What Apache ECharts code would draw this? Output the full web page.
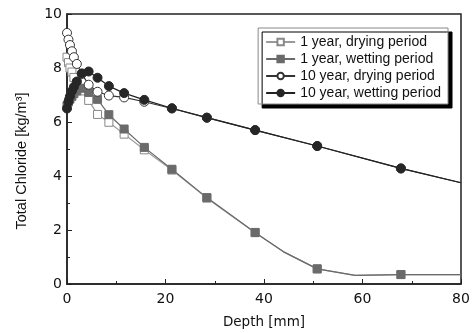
<!DOCTYPE html>
<html>
<head>
<meta charset="utf-8">
<script src="https://cdn.jsdelivr.net/npm/echarts@6/dist/echarts.min.js"></script>
<style>
  html, body { margin: 0; padding: 0; background: #fff; }
  #chart { width: 475px; height: 333px; }
</style>
</head>
<body>
<div id="chart"></div>
<script>
// depth [mm] of the plotted points
const depth1 = [0, 0.3, 0.6, 1.0, 1.4, 2.0, 3.0, 4.4, 6.2, 8.5, 11.6, 15.7, 21.3, 28.4, 38.2, 43.9, 50.8, 58.5, 67.8, 80]
const depth10 = [0, 0.3, 0.6, 1.0, 1.4, 2.0, 3.0, 4.4, 6.2, 8.5, 11.6, 15.7, 21.3, 28.4, 38.2, 50.8, 67.8, 80]
// points drawn as line only (no marker)
const unmarked = [43.9, 58.5, 80]

const oneYearDrying = [8.4, 8.2, 8.0, 7.85, 7.65, 7.45, 7.15, 6.8, 6.28, 5.99, 5.55, 4.97, 4.22, 3.18, 1.9, 1.2, 0.56, 0.32, 0.35, 0.35]
const oneYearWetting = [6.6, 6.75, 6.85, 6.95, 7.05, 7.15, 7.25, 7.1, 6.84, 6.27, 5.74, 5.06, 4.25, 3.2, 1.91, 1.2, 0.56, 0.32, 0.35, 0.35]
const tenYearDrying = [9.3, 9.05, 8.85, 8.62, 8.4, 8.15, 7.78, 7.38, 7.12, 6.98, 6.91, 6.75, 6.5, 6.16, 5.7, 5.11, 4.28, 3.75]
const tenYearWetting = [6.5, 6.75, 6.95, 7.15, 7.3, 7.5, 7.8, 7.87, 7.64, 7.33, 7.07, 6.82, 6.51, 6.16, 5.7, 5.11, 4.28, 3.75]

function pts(xs, ys) {
  return xs.map((x, i) => unmarked.includes(x)
    ? { value: [x, ys[i]], symbol: "none" }
    : [x, ys[i]])
}

const chart = echarts.init(document.getElementById("chart"))

const tickFont = { fontFamily: "DejaVu Sans", fontSize: 14, color: "#111" }

chart.setOption({
  animation: false,
  grid: {
    left: 67, right: 14, top: 14, bottom: 49,
    outerBoundsMode: "none",
    show: true, borderColor: "#222", borderWidth: 1.5
  },
  legend: {
    orient: "vertical",
    right: 27,
    top: 28,
    itemWidth: 29,
    itemHeight: 8,
    itemGap: 3,
    padding: [7, 7, 4, 7],
    backgroundColor: "#fff",
    borderColor: "#888",
    borderWidth: 1,
    shadowColor: "#000",
    shadowBlur: 0,
    shadowOffsetX: 4,
    shadowOffsetY: 4,
    textStyle: { fontFamily: "Liberation Sans", fontSize: 14, color: "#111" },
    data: ["1 year, drying period", "1 year, wetting period", "10 year, drying period", "10 year, wetting period"]
  },
  xAxis: {
    type: "value",
    min: 0, max: 80, interval: 20,
    name: "Depth [mm]",
    nameLocation: "middle",
    nameGap: 31,
    nameTextStyle: { fontFamily: "DejaVu Sans", fontSize: 13.5, color: "#111" },
    axisLine: { lineStyle: { color: "#222", width: 1.5 } },
    axisTick: { inside: true, length: 5, lineStyle: { color: "#222" } },
    minorTick: { show: true, splitNumber: 2, length: 3, lineStyle: { color: "#222" } },
    splitLine: { show: false },
    axisLabel: Object.assign({ margin: 8 }, tickFont)
  },
  yAxis: {
    type: "value",
    min: 0, max: 10, interval: 2,
    name: "Total Chloride [kg/m³]",
    nameLocation: "middle",
    nameGap: 38,
    nameTextStyle: { fontFamily: "Liberation Sans", fontSize: 14.5, color: "#111", padding: [0, 24, 0, 0] },
    axisLine: { lineStyle: { color: "#222", width: 1.5 } },
    axisTick: { inside: true, length: 5, lineStyle: { color: "#222" } },
    minorTick: { show: true, splitNumber: 2, length: 3, lineStyle: { color: "#222" } },
    splitLine: { show: false },
    axisLabel: Object.assign({ margin: 5 }, tickFont)
  },
  series: [
    {
      name: "1 year, drying period",
      type: "line",
      data: pts(depth1, oneYearDrying),
      symbol: "rect", symbolSize: 8,
      lineStyle: { color: "#999", width: 1.2 },
      itemStyle: { color: "#fff", borderColor: "#888", borderWidth: 1 },
      showAllSymbol: true
    },
    {
      name: "1 year, wetting period",
      type: "line",
      data: pts(depth1, oneYearWetting),
      symbol: "rect", symbolSize: 8,
      lineStyle: { color: "#6a6a6a", width: 1.2 },
      itemStyle: { color: "#6a6a6a", borderColor: "#6a6a6a", borderWidth: 1 },
      showAllSymbol: true
    },
    {
      name: "10 year, drying period",
      type: "line",
      data: pts(depth10, tenYearDrying),
      symbol: "circle", symbolSize: 9,
      lineStyle: { color: "#333", width: 1.2 },
      itemStyle: { color: "#fff", borderColor: "#333", borderWidth: 1 },
      showAllSymbol: true
    },
    {
      name: "10 year, wetting period",
      type: "line",
      data: pts(depth10, tenYearWetting),
      symbol: "circle", symbolSize: 9,
      lineStyle: { color: "#222", width: 1.2 },
      itemStyle: { color: "#262626", borderColor: "#262626", borderWidth: 1 },
      showAllSymbol: true
    }
  ]
})
</script>
</body>
</html>
